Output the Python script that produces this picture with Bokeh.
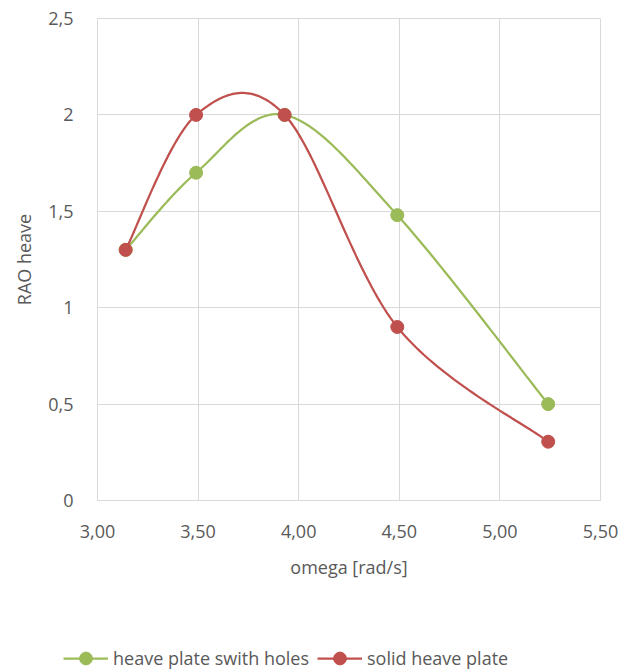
import numpy as np
from bokeh.plotting import figure
from bokeh.models import Range1d, Legend, LegendItem, FixedTicker
from bokeh.embed import file_html
from bokeh.resources import INLINE

# ---- data ----
omega = [3.14, 3.49, 3.93, 4.49, 5.24]
rao_holes = [1.30, 1.70, 2.00, 1.48, 0.50]
rao_solid = [1.30, 2.00, 2.00, 0.90, 0.305]
series_names = ["heave plate swith holes", "solid heave plate"]

x_ticks = [3.0, 3.5, 4.0, 4.5, 5.0, 5.5]
x_tick_labels = ["3,00", "3,50", "4,00", "4,50", "5,00", "5,50"]
y_ticks = [0.0, 0.5, 1.0, 1.5, 2.0, 2.5]
y_tick_labels = ["0", "0,5", "1", "1,5", "2", "2,5"]

GREEN = "#9BBB59"
RED = "#C0504D"
TXT = "#595959"
GRID = "#D9D9D9"
FONT = "Open Sans"


def smooth(xs, ys, n=40):
    """Excel-like smoothed line: cubic Bezier segments (Catmull-Rom control points)."""
    P = np.column_stack([xs, ys]).astype(float)
    m = len(P)
    out = []
    t = np.linspace(0, 1, n)[:, None]
    for i in range(m - 1):
        p0 = P[i - 1] if i > 0 else P[i]
        p1 = P[i]
        p2 = P[i + 1]
        p3 = P[i + 2] if i + 2 < m else P[i + 1]
        c1 = p1 + (p2 - p0) / 6.0
        c2 = p2 - (p3 - p1) / 6.0
        seg = ((1 - t) ** 3) * p1 + 3 * ((1 - t) ** 2) * t * c1 + 3 * (1 - t) * t ** 2 * c2 + t ** 3 * p2
        out.append(seg if i == 0 else seg[1:])
    c = np.vstack(out)
    return c[:, 0], c[:, 1]


p = figure(width=638, height=634, output_backend="svg", toolbar_location=None,
           x_range=Range1d(3.0, 5.5), y_range=Range1d(0, 2.5),
           min_border_left=97, min_border_right=38, min_border_top=18, min_border_bottom=134)

p.outline_line_color = GRID
p.xgrid.grid_line_color = GRID
p.ygrid.grid_line_color = GRID
p.xaxis.ticker = FixedTicker(ticks=x_ticks)
p.yaxis.ticker = FixedTicker(ticks=y_ticks)
p.xaxis.major_label_overrides = dict(zip(x_ticks, x_tick_labels))
p.yaxis.major_label_overrides = dict(zip(y_ticks, y_tick_labels))

for ax in (p.xaxis[0], p.yaxis[0]):
    ax.axis_line_color = GRID
    ax.major_tick_line_color = None
    ax.minor_tick_line_color = None
    ax.major_label_text_font = FONT
    ax.major_label_text_font_size = "18px"
    ax.major_label_text_color = TXT
    ax.axis_label_text_font = FONT
    ax.axis_label_text_font_size = "18px"
    ax.axis_label_text_color = TXT
    ax.axis_label_text_font_style = "normal"
    ax.major_label_standoff = 18

p.xaxis.axis_label = "omega [rad/s]"
p.yaxis.axis_label = "RAO heave"
p.xaxis.axis_label_standoff = 14
p.yaxis.axis_label_standoff = 9

for ys, col in [(rao_holes, GREEN), (rao_solid, RED)]:
    sx, sy = smooth(omega, ys)
    p.line(sx, sy, line_color=col, line_width=2.25)
    p.scatter(omega, ys, size=13, fill_color=col, line_color=col)

# ---- legend strip (separate root, placed directly below the chart) ----
lf = figure(width=638, height=36, output_backend="svg", toolbar_location=None,
            x_range=Range1d(0, 1), y_range=Range1d(0, 1),
            min_border_left=0, min_border_right=0, min_border_top=0, min_border_bottom=0)
lf.axis.visible = False
lf.grid.visible = False
lf.outline_line_color = None
items = []
for col, name in [(GREEN, series_names[0]), (RED, series_names[1])]:
    # sample glyphs kept outside the visible range; only their legend swatches show
    lr = lf.line([-5, -4], [-5, -5], line_color=col, line_width=2.25)
    sr = lf.scatter([-5], [-5], size=13, fill_color=col, line_color=col)
    items.append(LegendItem(label=name, renderers=[lr, sr]))
legend = Legend(items=items, orientation="horizontal", location=(63, -4),
                border_line_color=None, background_fill_alpha=0,
                padding=0, margin=0, spacing=8, glyph_width=45, glyph_height=32,
                label_height=16, label_standoff=5,
                label_text_font=FONT, label_text_font_size="18px", label_text_color=TXT)
lf.add_layout(legend, "center")

open("out.html", "w").write(file_html([p, lf], INLINE))
